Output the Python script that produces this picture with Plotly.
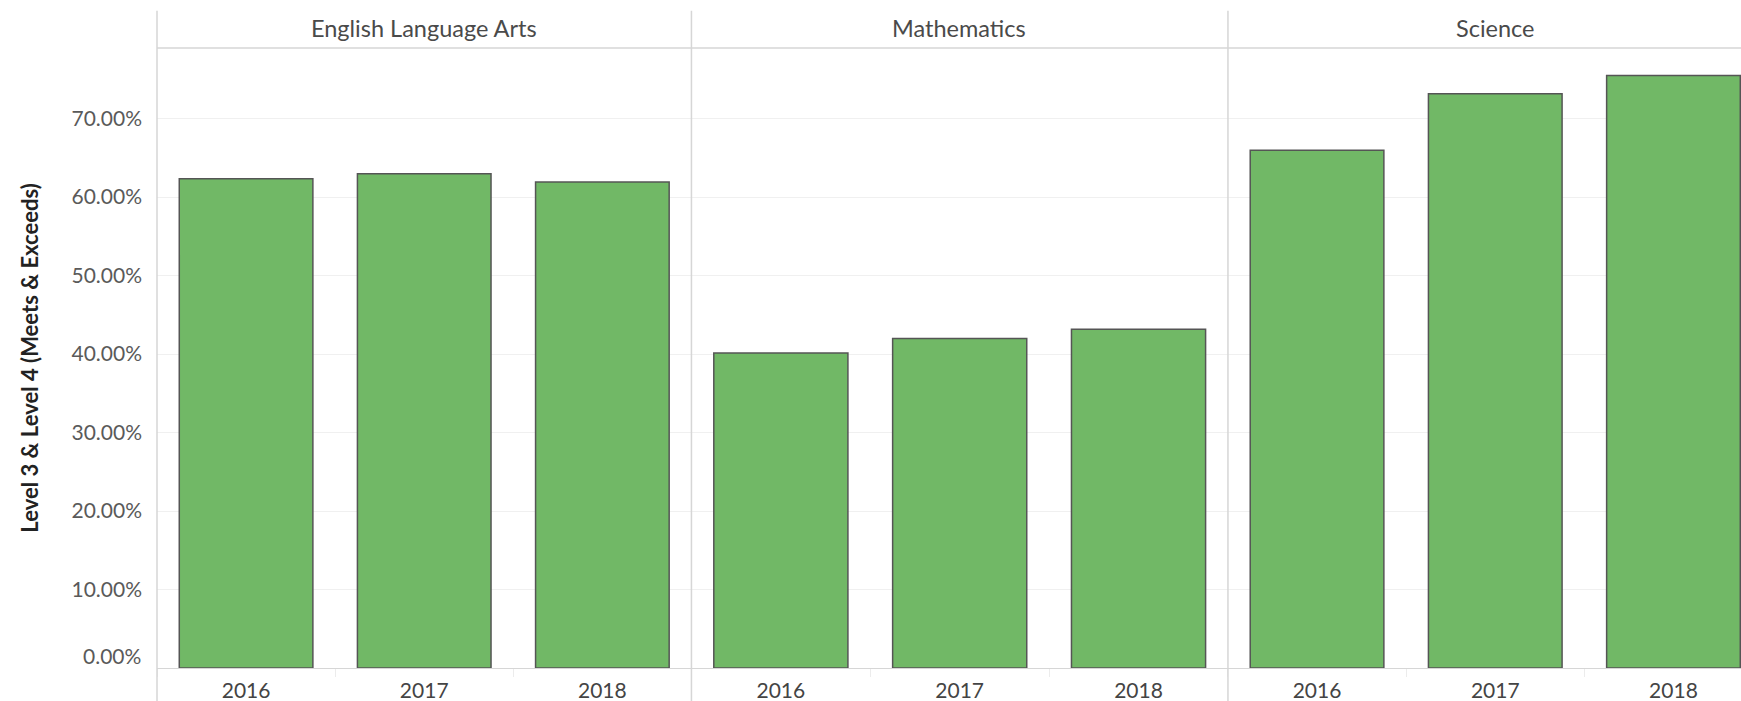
import plotly.graph_objects as go
from plotly.subplots import make_subplots

subjects = ["English Language Arts", "Mathematics", "Science"]
years = ["2016", "2017", "2018"]
ela = [0.6235, 0.6299, 0.6192]
math = [0.4013, 0.4197, 0.4315]
science = [0.6596, 0.7318, 0.7551]
y_ticks = [0.1, 0.2, 0.3, 0.4, 0.5, 0.6, 0.7]
zero_label = "0.00%"
y_title = "Level 3 & Level 4 (Meets & Exceeds)"

FONT = "Lato"
BAR = "#71b866"
EDGE = "#555555"
PANE_LINE = "#d6d6d6"
GRID = "#f0f0f0"

fig = make_subplots(rows=1, cols=3, shared_yaxes=True, horizontal_spacing=0)

for i, vals in enumerate([ela, math, science]):
    fig.add_trace(
        go.Bar(
            x=years,
            y=vals,
            width=0.75,
            marker=dict(color=BAR, line=dict(color=EDGE, width=1.5)),
            showlegend=False,
            hovertemplate="%{x}: %{y:.2%}<extra></extra>",
        ),
        row=1, col=i + 1,
    )

# pane boundaries (third pane runs off the right edge, like the source)
domains = [[0, 0.3374], [0.3374, 0.6761], [0.6761, 1.0]]
ranges = [[-0.5, 2.5], [-0.5, 2.5], [-0.5, 2.379]]

for i in range(3):
    fig.update_xaxes(
        domain=domains[i],
        range=ranges[i],
        type="category",
        showgrid=False,
        showline=True,
        linecolor=PANE_LINE,
        linewidth=1,
        ticks="outside",
        tickson="boundaries",
        ticklen=8,
        tickcolor="#ececec",
        ticklabelstandoff=4,
        tickfont=dict(family=FONT, size=21, color="#444444"),
        row=1, col=i + 1,
    )

fig.update_yaxes(
    range=[0, 0.79],
    tickvals=y_ticks,
    tickformat=".2%",
    showgrid=True,
    gridcolor=GRID,
    gridwidth=1,
    zeroline=False,
    showline=False,
    ticks="",
    ticklabelstandoff=14,
    tickfont=dict(family=FONT, size=21, color="#5a5a5a"),
)
fig.update_yaxes(
    title=dict(text="<b>" + y_title + "</b>", font=dict(family=FONT, size=22, color="#222222"), standoff=26),
    row=1, col=1,
)

# facet header lines and dividers
shapes = [
    dict(type="line", xref="paper", yref="paper", x0=0, x1=1, y0=1, y1=1,
         line=dict(color=PANE_LINE, width=1.5)),
]
for d in [0, domains[1][0], domains[2][0]]:
    shapes.append(dict(type="line", xref="paper", yref="paper", x0=d, x1=d, y0=-0.06, y1=1.06,
                       line=dict(color=PANE_LINE, width=1.5)))
fig.update_layout(shapes=shapes)

annotations = []
for i, s in enumerate(subjects):
    lo = domains[i][0]
    full_width = domains[0][1] - domains[0][0] if i < 2 else (domains[2][1] - domains[2][0]) * 3 / (ranges[2][1] - ranges[2][0])
    annotations.append(dict(
        text=s, xref="paper", yref="paper", x=lo + full_width / 2, y=1.033,
        xanchor="center", yanchor="middle", showarrow=False,
        font=dict(family=FONT, size=23.5, color="#4a4a4a"),
    ))
annotations.append(dict(
    text=zero_label, xref="paper", yref="y", x=0, y=0, xanchor="right", yanchor="middle",
    xshift=-14, yshift=13, showarrow=False,
    font=dict(family=FONT, size=21, color="#5a5a5a"),
))
fig.update_layout(annotations=annotations)

fig.update_layout(
    width=1741,
    height=701,
    margin=dict(l=157, r=0, t=48, b=33),
    plot_bgcolor="white",
    paper_bgcolor="white",
    bargap=0.25,
    font=dict(family=FONT),
)

# drop the default body margin so the figure fills the window without scrollbars
fig.write_html(
    "out.html",
    config={"displayModeBar": False},
    post_script="document.body.style.margin='0';document.body.style.overflow='hidden';",
)
